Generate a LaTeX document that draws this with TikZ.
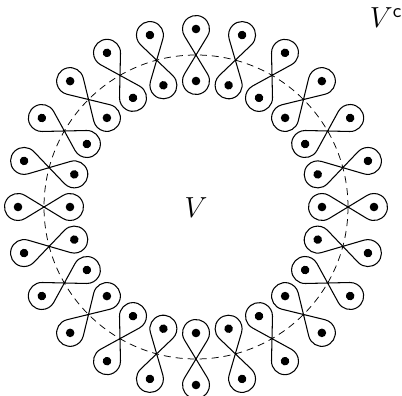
\documentclass[tikz,border=0pt]{standalone}
\usepackage{fix-cm}
\tikzset{
  loopline/.style={line width=1.05pt, line join=round},
  circline/.style={dash pattern=on 7pt off 5pt, line width=0.75pt},
  dotmark/.style={fill=black},
  biglabel/.style={font=\fontsize{29}{31}\selectfont, inner sep=0pt}
}
\begin{document}
\begin{tikzpicture}[x=1pt,y=1pt]
\useasboundingbox (0,0) rectangle (402,396);
\coordinate (C) at (196,189);
\draw[circline] (C) circle[radius=152];
\foreach \k in {0,...,23}{
  \begin{scope}[shift={(C)}, rotate=90+15*\k, shift={(152,0)}]
    \draw[loopline] (18.99,-11.54) arc[start angle=-121.3, end angle=121.3, radius=13.5]
      -- (-18.99,-11.54) arc[start angle=301.3, end angle=58.7, radius=13.5] -- cycle;
    \fill[dotmark] (26,0) circle[radius=4.3];
    \fill[dotmark] (-26,0) circle[radius=4.3];
  \end{scope}
}
\node[biglabel] (V) at (196,188) {$V$};
\node[biglabel, anchor=base east] (Vc) at (402,368) {$V^{\mathsf{c}}$};
\end{tikzpicture}
\end{document}
